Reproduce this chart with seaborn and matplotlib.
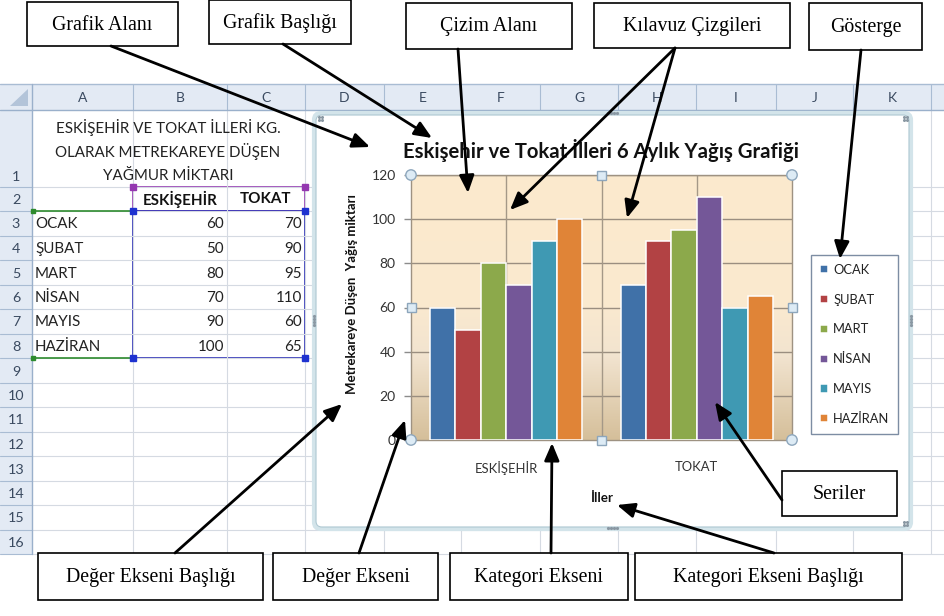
import numpy as np
import pandas as pd
import matplotlib
matplotlib.use('Agg')
import matplotlib.pyplot as plt
import seaborn as sns
from matplotlib.patches import Rectangle, FancyBboxPatch, Circle, Polygon
from matplotlib.colors import to_rgb

# ---------------- data ----------------
ILLER = ['ESKİŞEHİR', 'TOKAT']
AYLAR = ['OCAK', 'ŞUBAT', 'MART', 'NİSAN', 'MAYIS', 'HAZİRAN']
ESKISEHIR = [60, 50, 80, 70, 90, 100]
TOKAT = [70, 90, 95, 110, 60, 65]
Y_TICKS = [0, 20, 40, 60, 80, 100, 120]
COLUMN_LETTERS = ['A', 'B', 'C', 'D', 'E', 'F', 'G', 'H', 'I', 'J', 'K']
ROW_NUMBERS = list(range(1, 17))
TABLE_TITLE = ['ESKİŞEHİR VE TOKAT İLLERİ KG.', 'OLARAK METREKAREYE DÜŞEN', 'YAĞMUR MİKTARI']
CHART_TITLE = 'Eskişehir ve Tokat İlleri 6 Aylık Yağış Grafiği'
Y_TITLE = 'Metrekareye Düşen  Yağış miktarı'
X_TITLE = 'İller'
TOP_LABELS = ['Grafik Alanı', 'Grafik Başlığı', 'Çizim Alanı', 'Kılavuz Çizgileri', 'Gösterge']
BOTTOM_LABELS = ['Değer Ekseni Başlığı', 'Değer Ekseni', 'Kategori Ekseni', 'Kategori Ekseni Başlığı']
SIDE_LABEL = 'Seriler'

# ---------------- style ----------------
COLORS = ['#4071A8', '#B24244', '#8CA94B', '#745798', '#3F99B3', '#E08437']
SANS = ['Lato', 'DejaVu Sans']
SERIF = ['Liberation Serif', 'DejaVu Serif']
sns.set_style('white')
plt.rcParams['font.family'] = SANS

W, H = 944, 616
fig = plt.figure(figsize=(W / 100, H / 100), dpi=100)


def px_axes(z):
    a = fig.add_axes([0, 0, 1, 1], zorder=z)
    a.set_xlim(0, W)
    a.set_ylim(H, 0)
    a.axis('off')
    a.patch.set_alpha(0)
    return a


# ---------------- spreadsheet background ----------------
bg = px_axes(0)
COL_EDGES = [32, 133, 227, 305, 384, 461, 540, 618, 696, 776, 853, 931]
ROW_EDGES = [110, 187, 211, 236, 260, 285, 309, 334, 358, 383, 407, 432, 456, 481, 505, 530, 554]
HEAD_TOP = 84
GRID_BOTTOM = ROW_EDGES[-1]
HEAD_FC = '#E3EAF4'
HEAD_LINE = '#A9BCD3'
GRID = '#D5DAE2'
TXT = 10.9

bg.add_patch(Rectangle((0, HEAD_TOP), W, ROW_EDGES[0] - HEAD_TOP, fc=HEAD_FC, ec='none'))
bg.add_patch(Rectangle((0, ROW_EDGES[0]), COL_EDGES[0], GRID_BOTTOM - ROW_EDGES[0], fc=HEAD_FC, ec='none'))
bg.plot([0, W], [HEAD_TOP, HEAD_TOP], color=HEAD_LINE, lw=1)
for x in COL_EDGES[1:]:
    bg.plot([x, x], [HEAD_TOP, ROW_EDGES[0]], color=HEAD_LINE, lw=0.8)
    bg.plot([x, x], [ROW_EDGES[0], GRID_BOTTOM], color=GRID, lw=0.8)
for y in ROW_EDGES[1:]:
    bg.plot([0, COL_EDGES[0]], [y, y], color=HEAD_LINE, lw=0.8)
    bg.plot([COL_EDGES[0], W], [y, y], color=GRID, lw=0.8)
bg.plot([0, W], [ROW_EDGES[0], ROW_EDGES[0]], color='#9AB0CB', lw=1)
bg.plot([COL_EDGES[0], COL_EDGES[0]], [HEAD_TOP, GRID_BOTTOM], color='#9AB0CB', lw=1)
bg.add_patch(Polygon([[28, 89], [28, 106], [10, 106]], closed=True, fc='#B3C4D9', ec='none'))

for i, letter in enumerate(COLUMN_LETTERS):
    bg.text((COL_EDGES[i] + COL_EDGES[i + 1]) / 2, (HEAD_TOP + ROW_EDGES[0]) / 2 + 1, letter,
            ha='center', va='center', fontsize=10, color='#3A4A60')
for i, n in enumerate(ROW_NUMBERS):
    top, bot = ROW_EDGES[i], ROW_EDGES[i + 1]
    yc = bot - 11 if i == 0 else (top + bot) / 2
    bg.text(16, yc + 1, str(n), ha='center', va='center', fontsize=10.3, color='#3A4A60')

# table content
for k, line in enumerate(TABLE_TITLE):
    bg.text(168, 127 + k * 24.5, line, ha='center', va='center', fontsize=TXT, color='#222222')
bg.text((COL_EDGES[1] + COL_EDGES[2]) / 2, 199, ILLER[0], ha='center', va='center',
        fontsize=TXT, fontweight='bold', color='#111111')
bg.text((COL_EDGES[2] + COL_EDGES[3]) / 2, 199, ILLER[1], ha='center', va='center',
        fontsize=TXT, fontweight='bold', color='#111111')
for i, (ay, e, t) in enumerate(zip(AYLAR, ESKISEHIR, TOKAT)):
    yc = (ROW_EDGES[i + 2] + ROW_EDGES[i + 3]) / 2 + 1
    bg.text(35, yc, ay, ha='left', va='center', fontsize=TXT, color='#222222')
    bg.text(COL_EDGES[2] - 3, yc, str(e), ha='right', va='center', fontsize=TXT, color='#222222')
    bg.text(COL_EDGES[3] - 3, yc, str(t), ha='right', va='center', fontsize=TXT, color='#222222')

# selection outlines
bg.add_patch(Rectangle((COL_EDGES[1], ROW_EDGES[1]), COL_EDGES[3] - COL_EDGES[1],
                       ROW_EDGES[2] - ROW_EDGES[1], fc='none', ec='#9438B0', lw=1.2))
bg.add_patch(Rectangle((COL_EDGES[1], ROW_EDGES[2]), COL_EDGES[3] - COL_EDGES[1],
                       ROW_EDGES[8] - ROW_EDGES[2], fc='none', ec='#2A2DB5', lw=1.2))
for y in (ROW_EDGES[2], ROW_EDGES[8]):
    bg.plot([COL_EDGES[0], COL_EDGES[1]], [y, y], color='#2E8B2E', lw=1.2)
    bg.plot([COL_EDGES[0] + 1], [y], marker='s', ms=3.5, color='#2E8B2E')
for x in (COL_EDGES[1], COL_EDGES[3]):
    bg.plot([x], [ROW_EDGES[1]], marker='s', ms=4, color='#9438B0')
    bg.plot([x], [ROW_EDGES[2]], marker='s', ms=4.5, color='#1E32D0')
    bg.plot([x], [ROW_EDGES[8]], marker='s', ms=4.5, color='#1E32D0')

# chart frame (white chart area)
bg.add_patch(FancyBboxPatch((314, 113), 597, 416, boxstyle='round,pad=0,rounding_size=7',
                            fc='white', ec='#D3E4EA', lw=3.0, zorder=3))
bg.add_patch(FancyBboxPatch((316, 115), 593, 412, boxstyle='round,pad=0,rounding_size=6',
                            fc='none', ec='#AFC8D2', lw=0.8, zorder=3))
for dx in (-4.5, -1.5, 1.5, 4.5):
    bg.plot([612 + dx, 612 + dx], [113, 528], ls='none', marker='o', ms=1.3, color='#8A98A3', zorder=4)
    bg.plot([314, 911], [320 + dx, 320 + dx], ls='none', marker='o', ms=1.3, color='#8A98A3', zorder=4)
for (cx, cy) in [(320, 118), (905, 118), (905, 523)]:
    for ddx, ddy in [(-1.5, -1.5), (1.5, -1.5), (-1.5, 1.5), (1.5, 1.5)]:
        bg.plot([cx + ddx], [cy + ddy], marker='o', ms=1.2, color='#8A98A3', zorder=4)
bg.text(601, 150, CHART_TITLE, ha='center', va='center', fontsize=14.6, fontweight='bold',
        color='#111111', zorder=4)

# ---------------- the bar chart ----------------
PL, PR, PT, PB = 411, 792, 175, 440
ax = fig.add_axes([PL / W, 1 - PB / H, (PR - PL) / W, (PB - PT) / H], zorder=2)

df = pd.DataFrame({
    'İl': np.repeat(ILLER, len(AYLAR)),
    'Ay': AYLAR * len(ILLER),
    'Yağış': ESKISEHIR + TOKAT,
})
sns.barplot(data=df, x='İl', y='Yağış', hue='Ay', order=ILLER, hue_order=AYLAR,
            palette=COLORS, saturation=1, width=0.8, errorbar=None,
            edgecolor='white', linewidth=1.1, ax=ax, zorder=3)

# gradient plot-area background
stops = [(0.0, '#FCEACD'), (0.5, '#FAE9CF'), (0.68, '#F2E4D0'), (1.0, '#D5BF9A')]
n = 200
t = np.linspace(0, 1, n)
grad = np.zeros((n, 1, 3))
for c in range(3):
    grad[:, 0, c] = np.interp(t, [s[0] for s in stops], [to_rgb(s[1])[c] for s in stops])
ax.imshow(grad, extent=(-0.5, 1.5, 0, 120), aspect='auto', origin='upper', zorder=0)
ax.set_xlim(-0.5, 1.5)
ax.set_ylim(0, 120)
ax.set_yticks(Y_TICKS)
for y in Y_TICKS[1:]:
    ax.axhline(y, color='#9A8E80', lw=1.0, zorder=1)
for x in (0, 0.5, 1):
    ax.axvline(x, color='#A49887', lw=1.0, zorder=1)
for s in ax.spines.values():
    s.set_visible(True)
    s.set_color('#9E9282')
    s.set_linewidth(1.0)
ax.tick_params(axis='y', direction='out', length=5, width=1, color='#8C8C8C', pad=6,
               labelsize=10, labelcolor='#333333', left=True)
ax.tick_params(axis='x', length=0, pad=15, labelsize=9.4, labelcolor='#333333')
ax.set_ylabel(Y_TITLE, fontsize=9.5, fontweight='bold', color='#111111')
ax.yaxis.set_label_coords((352 - PL) / (PR - PL), (PB - 294) / (PB - PT))
ax.set_xlabel(X_TITLE, fontsize=9.6, fontweight='bold', color='#111111')
ax.xaxis.set_label_coords(0.5, (PB - 498) / (PB - PT))
ax.xaxis.label.set_va('center')
ax.yaxis.label.set_va('center')

handles, labels = ax.get_legend_handles_labels()
leg = ax.legend(handles, labels, loc='upper left', bbox_to_anchor=(811 / W, 1 - 255 / H),
                bbox_transform=fig.transFigure, frameon=True, fancybox=False,
                edgecolor='#7D8DA3', facecolor='white', framealpha=1,
                handlelength=0.6, handleheight=0.6, handletextpad=0.45,
                labelspacing=1.38, borderpad=0.68, fontsize=9.3, borderaxespad=0)
leg.get_frame().set_linewidth(1.0)
for txt in leg.get_texts():
    txt.set_color('#222222')

# ---------------- overlay: handles, callouts, arrows ----------------
ov = px_axes(10)
HANDLE_FC, HANDLE_EC = '#DDEBF5', '#8DA6BC'
for (x, y) in [(PL, PT), (PR, PT), (PL, PB), (PR, PB)]:
    ov.add_patch(Circle((x, y), 5.2, fc=HANDLE_FC, ec=HANDLE_EC, lw=1))
for (x, y) in [((PL + PR) / 2, PT), ((PL + PR) / 2, PB), (PL, (PT + PB) / 2), (PR, (PT + PB) / 2)]:
    ov.add_patch(Rectangle((x - 4.5, y - 4.5), 9, 9, fc=HANDLE_FC, ec=HANDLE_EC, lw=1))

TOP_BOXES = [(27, 2, 151, 44), (209, 0, 142, 44), (406, 3, 166, 46), (594, 3, 196, 45), (809, 3, 113, 47)]
BOTTOM_BOXES = [(38, 553, 225, 47), (273, 553, 165, 47), (450, 553, 178, 47), (635, 553, 267, 47)]
SIDE_BOX = (782, 471, 115, 45)


def callout(box, label):
    x, y, w, h = box
    ov.add_patch(Rectangle((x, y), w, h, fc='white', ec='black', lw=1.2))
    ov.text(x + w / 2, y + h / 2 + 1, label, ha='center', va='center', fontsize=14.3,
            family=SERIF, color='black')


for b, l in zip(TOP_BOXES, TOP_LABELS):
    callout(b, l)
for b, l in zip(BOTTOM_BOXES, BOTTOM_LABELS):
    callout(b, l)
callout(SIDE_BOX, SIDE_LABEL)

ARROWS = [
    ((111, 46), (370, 147)),
    ((283, 44), (432, 138)),
    ((458, 49), (468, 193)),
    ((675, 48), (510, 210)),
    ((675, 48), (627, 218)),
    ((861, 50), (840, 259)),
    ((782, 500), (715, 402)),
    ((175, 553), (342, 404)),
    ((359, 553), (405, 420)),
    ((551, 553), (552, 443)),
    ((774, 553), (617, 505)),
]
for start, tip in ARROWS:
    ov.annotate('', xy=tip, xytext=start,
                arrowprops=dict(arrowstyle='-|>,head_length=0.75,head_width=0.32',
                                mutation_scale=14, lw=2.0, color='black',
                                shrinkA=0, shrinkB=0))

fig.savefig('out.png', dpi=100)
